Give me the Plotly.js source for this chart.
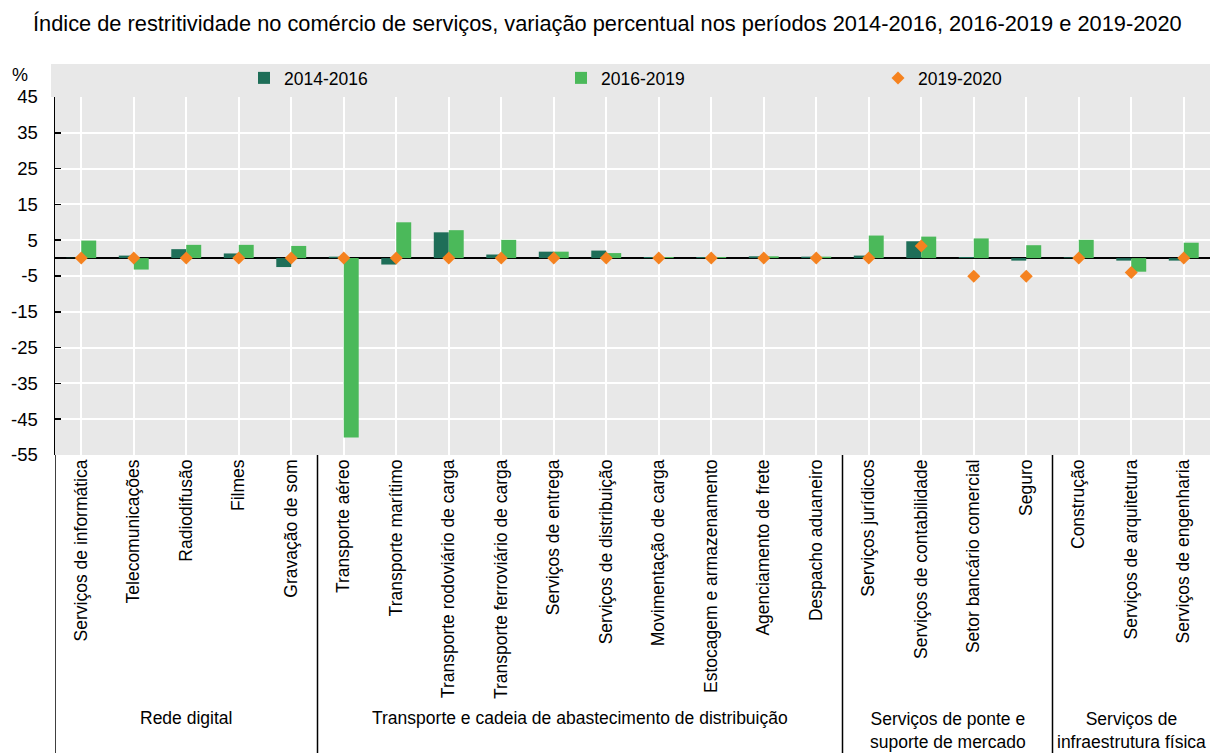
<!DOCTYPE html>
<html><head><meta charset="utf-8">
<script src="https://cdn.plot.ly/plotly-3.0.1.min.js"></script>
<style>html,body{margin:0;padding:0;background:#fff}</style>
</head><body>
<div id="chart" style="width:1210px;height:753px"></div>
<script>
const categories = [
  "Serviços de informática","Telecomunicações","Radiodifusão","Filmes","Gravação de som",
  "Transporte aéreo","Transporte marítimo","Transporte rodoviário de carga","Transporte ferroviário de carga",
  "Serviços de entrega","Serviços de distribuição","Movimentação de carga","Estocagem e armazenamento",
  "Agenciamento de frete","Despacho aduaneiro",
  "Serviços jurídicos","Serviços de contabilidade","Setor bancário comercial","Seguro",
  "Construção","Serviços de arquitetura","Serviços de engenharia"
];
const v2014_2016 = [0.1, 0.7, 2.5, 1.3, -2.5, 0.4, -1.8, 7.2, 1.0, 1.8, 2.1, 0.3, 0.3, 0.5, 0.4, 0.7, 4.7, 0.3, -0.7, 0.2, -0.7, -0.7];
const v2016_2019 = [4.9, -3.2, 3.7, 3.7, 3.4, -50.1, 10.0, 7.8, 5.1, 1.8, 1.4, 0.3, 0.3, 0.5, 0.4, 6.3, 6.0, 5.5, 3.6, 5.1, -3.8, 4.3];
const v2019_2020 = [0, 0, 0, 0, 0, 0, 0, 0, 0, 0, 0, 0, 0, 0, 0, 0, 3.4, -5.1, -5.1, 0, -4.0, 0];
const seriesNames = ["2014-2016", "2016-2019", "2019-2020"];
const groups = [
  {label: "Rede digital", size: 5},
  {label: "Transporte e cadeia de abastecimento de distribuição", size: 10},
  {label: "Serviços de ponte e<br>suporte de mercado", size: 4},
  {label: "Serviços de<br>infraestrutura física", size: 3}
];
const title = "Índice de restritividade no comércio de serviços, variação percentual nos períodos 2014-2016, 2016-2019 e 2019-2020";
const yTickVals = [45, 35, 25, 15, 5, -5, -15, -25, -35, -45, -55];

const FONT = "'Liberation Sans', Arial, sans-serif";
const W = 1210, H = 753;
const mL = 55, mR = 0, mT = 97, mB = 298;
const plotH = H - mT - mB;
const plotW = W - mL - mR;

const x = categories.map((c, i) => i);

const traces = [
  {type: "bar", name: seriesNames[0], x: x, y: v2014_2016, marker: {color: "#1e6e58"}, hoverinfo: "y"},
  {type: "bar", name: seriesNames[1], x: x, y: v2016_2019, marker: {color: "#4bb95a"}, hoverinfo: "y"},
  {type: "scatter", mode: "markers", name: seriesNames[2], x: x, y: v2019_2020,
   marker: {symbol: "diamond", size: 10, color: "#f5821f"}, hoverinfo: "y"}
];

const shapes = [];
shapes.push({type: "rect", xref: "paper", yref: "paper", x0: -4/plotW, x1: 1, y0: 1, y1: 1 + 33/plotH,
  fillcolor: "#e8e8e8", line: {width: 0}, layer: "below"});
let acc = 0;
const annotations = [];
groups.forEach((g, gi) => {
  const start = acc, end = acc + g.size;
  const twoLine = g.label.indexOf("<br>") >= 0;
  annotations.push({xref: "x", yref: "paper", x: (start + end - 1) / 2, y: -((twoLine ? 730 : 718) - (H - mB)) / plotH,
    text: g.label, showarrow: false, xanchor: "center", yanchor: "middle",
    font: {family: FONT, size: 17.5, color: "#000"}});
  if (gi > 0) {
    shapes.push({type: "line", xref: "x", yref: "paper", x0: start - 0.5, x1: start - 0.5, y0: 0, y1: -mB/plotH,
      line: {color: "#000", width: 1.5}});
  }
  acc = end;
});
shapes.push({type: "line", xref: "x", yref: "paper", x0: -0.5, x1: -0.5, y0: 0, y1: -mB/plotH,
  line: {color: "#000", width: 1.5}});
annotations.push({xref: "paper", yref: "paper", x: -35/plotW, y: 1 + (97-75)/plotH, text: "%",
  showarrow: false, xanchor: "center", yanchor: "middle", font: {family: FONT, size: 18, color: "#000"}});

const layout = {
  width: W, height: H,
  margin: {l: mL, r: mR, t: mT, b: mB, autoexpand: false},
  paper_bgcolor: "#fff", plot_bgcolor: "#e8e8e8",
  title: {text: title, x: 33/W, xanchor: "left", y: 1 - 23/H, yanchor: "middle", automargin: false,
    font: {family: FONT, size: 21.8, color: "#000"}},
  barmode: "group", bargap: 0.43, bargroupgap: 0,
  showlegend: true,
  legend: {orientation: "h", x: 0.1645 - 1/plotW, xanchor: "left", y: 1 + (97-78)/plotH, yanchor: "middle",
    bgcolor: "rgba(0,0,0,0)", font: {family: FONT, size: 17.5, color: "#000"}, entrywidth: 272, traceorder: "normal"},
  xaxis: {range: [-0.5, categories.length - 0.5], tickmode: "array", tickvals: x, ticktext: categories,
    tickangle: -90, tickson: "boundaries", showgrid: true, gridcolor: "#fff", gridwidth: 2,
    ticks: "", showline: false, zeroline: false, fixedrange: true, automargin: false,
    tickfont: {family: FONT, size: 17.5, color: "#000"}},
  yaxis: {range: [-55, 45], tickmode: "array", tickvals: yTickVals, ticktext: yTickVals.map(String),
    showgrid: true, gridcolor: "#fff", gridwidth: 2, zeroline: true, zerolinecolor: "#000", zerolinewidth: 2,
    showline: true, linecolor: "#000", linewidth: 1.5, ticks: "inside", ticklen: 6, tickcolor: "#000", tickwidth: 1.5,
    ticklabelstandoff: 12, fixedrange: true, automargin: false,
    tickfont: {family: FONT, size: 18.5, color: "#000"}},
  shapes: shapes,
  annotations: annotations
};

Plotly.newPlot("chart", traces, layout, {displayModeBar: false, staticPlot: true});
</script>
</body></html>
